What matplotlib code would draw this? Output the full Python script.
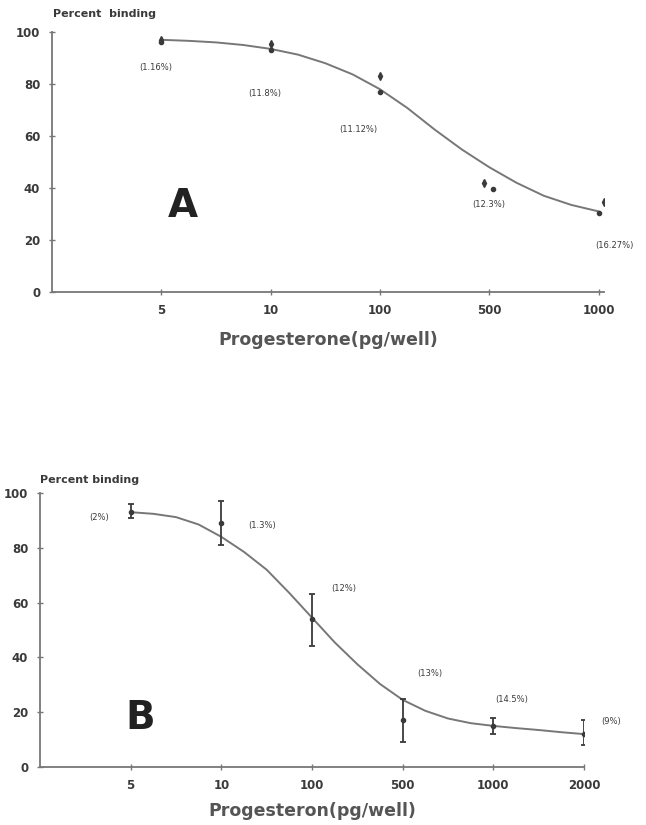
import matplotlib.pyplot as plt

# ---- panel A data (categorical x positions, 1..5) ----
a_ticks = ['5', '10', '100', '500', '1000']
a_pos = [1, 2, 3, 4, 5]
# two replicate points per dose
a_x1 = [1.0, 2.0, 3.0, 3.95, 5.05]
a_y1 = [97, 95.5, 83, 42, 34.5]
a_x2 = [1.0, 2.0, 3.0, 4.03, 5.0]
a_y2 = [96, 93, 77, 39.5, 30.5]
# fitted curve
a_curve_x = [1.0, 1.25, 1.5, 1.75, 2.0, 2.25, 2.5, 2.75, 3.0, 3.25, 3.5, 3.75,
             4.0, 4.25, 4.5, 4.75, 5.0]
a_curve_y = [97, 96.6, 96, 95, 93.5, 91.3, 88, 83.7, 78, 70.8, 62.5, 54.8,
             48, 42, 37, 33.5, 31]
a_labels = ['(1.16%)', '(11.8%)', '(11.12%)', '(12.3%)', '(16.27%)']
a_lab_x = [0.95, 1.95, 2.8, 4.0, 5.15]
a_lab_y = [86.5, 76.5, 62.5, 33.5, 18]

# ---- panel B data (categorical x positions, 1..6) ----
b_ticks = ['5', '10', '100', '500', '1000', '2000']
b_pos = [1, 2, 3, 4, 5, 6]
b_mean = [93, 89, 54, 17, 15, 12]
b_low = [91, 81, 44, 9, 12, 8]
b_high = [96, 97, 63, 25, 18, 17]
b_curve_x = [1.0, 1.25, 1.5, 1.75, 2.0, 2.25, 2.5, 2.75, 3.0, 3.25, 3.5, 3.75,
             4.0, 4.25, 4.5, 4.75, 5.0, 5.25, 5.5, 5.75, 6.0]
b_curve_y = [93, 92.4, 91.2, 88.5, 84, 78.5, 72, 63.5, 54.5, 45.5, 37.5, 30.3,
             24.5, 20.5, 17.7, 16, 15, 14.2, 13.5, 12.7, 12]
b_labels = ['(2%)', '(1.3%)', '(12%)', '(13%)', '(14.5%)', '(9%)']
b_lab_x = [0.65, 2.45, 3.35, 4.3, 5.2, 6.3]
b_lab_y = [91, 88, 65, 34, 24.5, 16.5]

ink = '#3a3a3a'
line_c = '#777777'
plt.rcParams['font.family'] = ['DejaVu Sans']

fig = plt.figure(figsize=(6.46, 8.25), dpi=100)


def style_axes(ax, ticks, pos, xmax):
    ax.set_xlim(0, xmax)
    ax.set_ylim(0, 100)
    for s in ['top', 'right']:
        ax.spines[s].set_visible(False)
    for s in ['left', 'bottom']:
        ax.spines[s].set_color(line_c)
        ax.spines[s].set_linewidth(1.3)
    ax.set_xticks(pos)
    ax.set_xticklabels(ticks)
    ax.set_yticks([0, 20, 40, 60, 80, 100])
    ax.tick_params(direction='inout', length=5, width=1, color=line_c,
                   labelsize=8.5, labelcolor=ink, pad=6)
    for t in ax.get_xticklabels() + ax.get_yticklabels():
        t.set_fontweight('bold')


# ---- panel A ----
ax1 = fig.add_axes([52 / 646, 533 / 825, 552 / 646, 260 / 825])
style_axes(ax1, a_ticks, a_pos, 5.05)
ax1.plot(a_curve_x, a_curve_y, color=line_c, lw=1.4)
ax1.plot(a_x1, a_y1, 'd', color=ink, ms=4)
ax1.plot(a_x2, a_y2, 'o', color=ink, ms=3)
for t, x, y in zip(a_labels, a_lab_x, a_lab_y):
    ax1.text(x, y, t, fontsize=6, color=ink, ha='center', va='center')
ax1.text(1.2, 33, 'A', fontsize=28, fontweight='bold', color='#222222',
         ha='center', va='center')
ax1.text(0.01, 105, 'Percent  binding', fontsize=8, fontweight='bold', color=ink,
         ha='left', va='bottom', clip_on=False)
ax1.set_xlabel('Progesterone(pg/well)', fontsize=12.5, fontweight='bold',
               color='#555555', labelpad=10)

# ---- panel B ----
ax2 = fig.add_axes([40 / 646, 58 / 825, 544 / 646, 274 / 825])
style_axes(ax2, b_ticks, b_pos, 6.0)
ax2.plot(b_curve_x, b_curve_y, color=line_c, lw=1.4)
yerr = [[m - lo for m, lo in zip(b_mean, b_low)],
        [hi - m for m, hi in zip(b_mean, b_high)]]
ax2.errorbar(b_pos, b_mean, yerr=yerr, fmt='o', color=ink, ms=3,
             elinewidth=1.3, capsize=2.5, capthick=1.3)
for t, x, y in zip(b_labels, b_lab_x, b_lab_y):
    ax2.text(x, y, t, fontsize=6, color=ink, ha='center', va='center')
ax2.text(1.1, 18, 'B', fontsize=28, fontweight='bold', color='#222222',
         ha='center', va='center')
ax2.text(0.0, 103, 'Percent binding', fontsize=8, fontweight='bold', color=ink,
         ha='left', va='bottom', clip_on=False)
ax2.set_xlabel('Progesteron(pg/well)', fontsize=12.5, fontweight='bold',
               color='#555555', labelpad=7)

fig.savefig('out.png', dpi=100)
